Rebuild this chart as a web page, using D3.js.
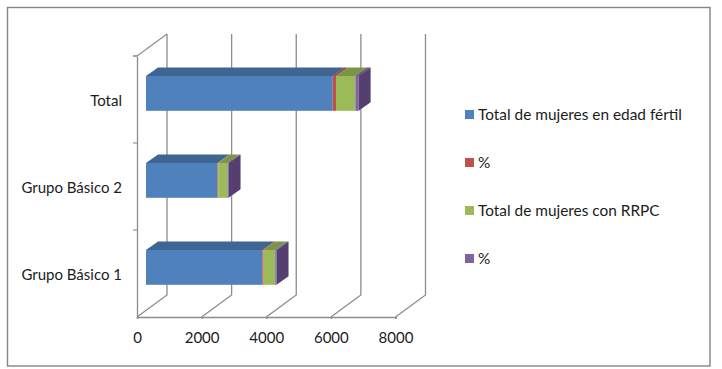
<!DOCTYPE html>
<html><head><meta charset="utf-8">
<script src="https://cdnjs.cloudflare.com/ajax/libs/d3/7.8.5/d3.min.js"></script>
<style>html,body{margin:0;padding:0;background:#fff}svg{display:block}text{font-family:Lato,"Open Sans",sans-serif;fill:#1c1c1c}</style>
</head><body><svg id="c" width="722" height="369"></svg>
<script>
const categories = ["Grupo Básico 1", "Grupo Básico 2", "Total"];
const seriesNames = ["Total de mujeres en edad fértil", "%", "Total de mujeres con RRPC", "%"];
const womenTotal = [3600, 2210, 5780];
const womenPct = [40, 25, 100];
const rrpcTotal = [360, 290, 600];
const rrpcPct = [40, 30, 100];
const xTicks = [0, 2000, 4000, 6000, 8000];
const seriesValues = [womenTotal, womenPct, rrpcTotal, rrpcPct];
const frontColors = ["#4F81BD", "#C0504D", "#9BBB59", "#8064A2"];
const topColors = ["#3F6593", "#964040", "#7B9446", "#644E80"];
const sideColors = ["#3B5E8A", "#8A3B39", "#72893F", "#553F70"];
const gridColor = "#8C8C8C";

const svg = d3.select("#c");
const x = d3.scaleLinear().domain([0, 8000]).range([137, 395.5]);
const y = d3.scaleBand().domain(categories).range([317, 56]);
const depth = {dx: 30, dy: -22};
const barNear = 0.3;
const barSpan = {dx: 12, dy: -8.5};
const barH = y.bandwidth() * 0.4;

svg.append("rect").attr("x", 7.5).attr("y", 7.5).attr("width", 702.5).attr("height", 358.5)
  .attr("fill", "#fff").attr("stroke", "#858585").attr("stroke-width", 1.4);

// back wall gridlines and floor
xTicks.forEach(t => {
  const fx = x(t), bx = fx + depth.dx;
  svg.append("path")
    .attr("d", `M${fx},${y.range()[0]}L${bx},${y.range()[0] + depth.dy}L${bx},${y.range()[1] + depth.dy}`)
    .attr("fill", "none").attr("stroke", gridColor).attr("stroke-width", 1.3);
});
// left wall top edge
svg.append("path")
  .attr("d", `M${x(0)},${y.range()[1]}L${x(0) + depth.dx},${y.range()[1] + depth.dy}`)
  .attr("fill", "none").attr("stroke", gridColor).attr("stroke-width", 1.1);

// axes
const xAxis = d3.axisBottom(x).tickValues(xTicks).tickFormat(d3.format("d")).tickSize(2).tickPadding(13);
const gx = svg.append("g").attr("transform", `translate(0,${y.range()[0]})`).call(xAxis);
gx.selectAll("path,line").attr("stroke", gridColor).attr("stroke-width", 1.3);
gx.selectAll("text").attr("font-size", 15).style("font-family", "Lato");

const yAxis = d3.axisLeft(y).tickSize(0).tickPadding(15);
const gy = svg.append("g").attr("transform", `translate(${x(0)},2)`).call(yAxis);
gy.select("path").attr("transform", "translate(0,-2)").attr("stroke", gridColor).attr("stroke-width", 1.3);
gy.selectAll("text").attr("font-size", 15).style("font-family", "Lato");
[...categories.map(c => y(c)), y.range()[1]].forEach(v => {
  svg.append("line").attr("x1", x(0) - 4).attr("x2", x(0)).attr("y1", v).attr("y2", v)
    .attr("stroke", gridColor).attr("stroke-width", 1.1);
});

// stacked 3D bars
categories.forEach((cat, ci) => {
  const bandMid = y(cat) + y.bandwidth() / 2;
  const nearX = depth.dx * barNear, nearY = depth.dy * barNear;
  const top = Math.round(bandMid + nearY - barH / 2 + 0.6);
  const bottom = top + barH;
  let cum = 0;
  seriesValues.forEach((vals, si) => {
    const x0 = x(cum) + nearX, x1 = x(cum + vals[ci]) + nearX;
    cum += vals[ci];
    const g = svg.append("g");
    g.append("polygon")
      .attr("points", `${x0},${top} ${x0 + barSpan.dx},${top + barSpan.dy} ${x1 + barSpan.dx},${top + barSpan.dy} ${x1},${top}`)
      .attr("fill", topColors[si]);
    g.append("rect").attr("x", x0).attr("y", top).attr("width", x1 - x0).attr("height", barH)
      .attr("fill", frontColors[si]);
    if (si === seriesValues.length - 1) {
      g.append("polygon")
        .attr("points", `${x1},${top} ${x1 + barSpan.dx},${top + barSpan.dy} ${x1 + barSpan.dx},${bottom + barSpan.dy} ${x1},${bottom}`)
        .attr("fill", sideColors[si]);
    }
  });
});

// legend
const legY = d3.scalePoint().domain(d3.range(seriesNames.length)).range([114.5, 258.5]);
seriesNames.forEach((n, i) => {
  svg.append("rect").attr("x", 465).attr("y", legY(i) - 4.5).attr("width", 9).attr("height", 9).attr("fill", frontColors[i]);
  svg.append("text").attr("x", 478).attr("y", legY(i) + 5.5).attr("font-size", 15.4).text(n);
});
</script></body></html>
